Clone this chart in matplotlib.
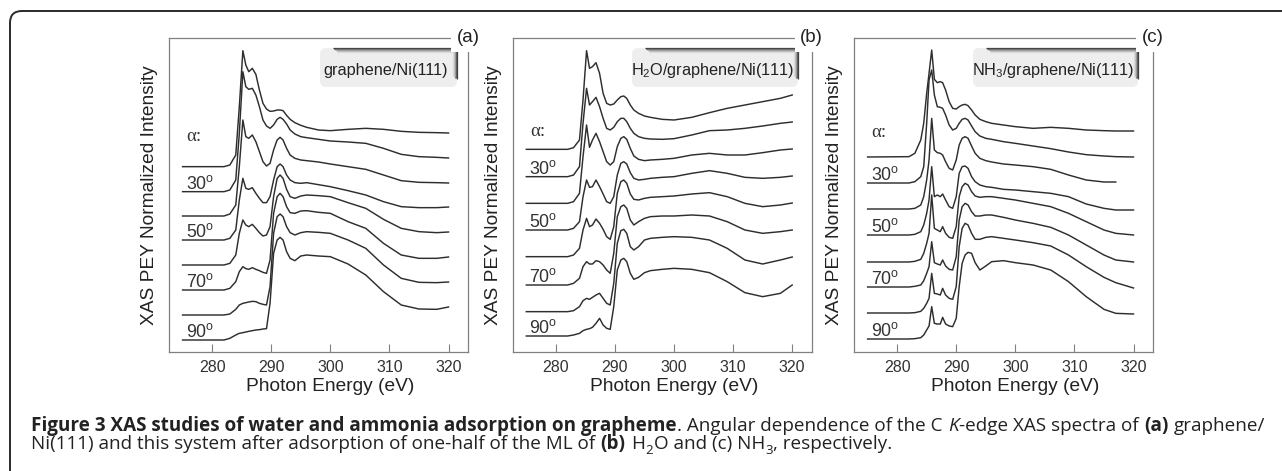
import numpy as np
import matplotlib.pyplot as plt
from matplotlib.patches import FancyBboxPatch
from matplotlib.lines import Line2D
from matplotlib.transforms import IdentityTransform

plt.rcParams['font.family'] = ['Liberation Sans', 'DejaVu Sans']

# photon energies (eV) of the read points
energy_ab = [275, 282, 283, 284, 284.6, 285.2, 285.7, 286.2, 286.8, 287.4, 288, 288.6, 289.2, 289.8,
             290.4, 291, 291.5, 292, 292.6, 293.2, 294, 295, 296, 298, 300, 303, 306, 309, 312, 315,
             318, 320]
energy_c = [275, 282, 283, 284, 284.5, 285, 285.4, 285.85, 286.3, 286.8, 287.3, 287.7, 288.2, 288.8,
            289.4, 290, 290.5, 291, 291.5, 292, 292.6, 293.2, 294, 295, 296, 298, 300, 303, 306, 309,
            312, 315, 317, 320]

# (a) graphene/Ni(111), top curve first, intensity above each curve's own baseline (a.u.)
gr_1 = [0, 0, 5, 35, 180, 348, 305, 285, 295, 277, 230, 190, 173, 166, 167, 170, 170, 168, 154, 142, 132, 124, 118, 110, 108, 112, 115, 112, 106, 103, 102, 101]
gr_2 = [0, 0, 5, 35, 175, 360, 315, 307, 310, 290, 255, 215, 197, 190, 200, 217, 223, 217, 203, 185, 173, 165, 162, 157, 152, 149, 145, 130, 112, 105, 103, 101]
gr_3 = [0, 0, 6, 33, 148, 288, 238, 233, 243, 223, 193, 163, 150, 158, 198, 228, 236, 228, 203, 183, 173, 168, 166, 162, 156, 148, 140, 123, 106, 101, 100, 99]
gr_4 = [0, 0, 5, 30, 120, 185, 155, 152, 157, 140, 125, 112, 112, 130, 180, 220, 228, 220, 195, 180, 172, 170, 172, 166, 160, 148, 135, 115, 100, 97, 97, 99]
gr_5 = [0, 0, 5, 30, 95, 135, 120, 115, 122, 110, 97, 87, 90, 115, 205, 260, 270, 260, 227, 205, 200, 207, 210, 208, 205, 187, 170, 137, 110, 100, 97, 99]
gr_6 = [0, 0, 5, 25, 55, 70, 64, 62, 67, 62, 58, 53, 50, 90, 230, 280, 290, 280, 250, 232, 230, 237, 238, 233, 230, 205, 185, 140, 105, 95, 95, 99]
gr_7 = [0, 0, 3, 17, 30, 35, 37, 39, 41, 40, 35, 32, 30, 85, 245, 295, 303, 295, 265, 247, 240, 247, 250, 248, 245, 225, 200, 150, 110, 98, 97, 99]
gr_8 = [0, 0, 5, 15, 20, 22, 24, 26, 28, 30, 31, 33, 34, 110, 260, 300, 308, 300, 265, 245, 238, 252, 255, 252, 250, 228, 195, 145, 105, 93, 92, 99]
gr_offsets = [520, 445, 372, 300, 225, 150, 75, 0]

# (b) H2O/graphene/Ni(111)
h2o_1 = [0, 0, 5, 28, 148, 296, 243, 248, 260, 228, 168, 138, 133, 136, 148, 158, 160, 153, 133, 118, 108, 100, 96, 90, 88, 96, 110, 123, 133, 143, 153, 163]
h2o_2 = [0, 0, 5, 30, 160, 265, 215, 225, 238, 210, 175, 145, 140, 148, 165, 175, 175, 165, 145, 130, 120, 115, 113, 112, 114, 125, 138, 140, 145, 152, 160, 164]
h2o_3 = [0, 0, 5, 30, 140, 235, 168, 190, 210, 185, 155, 125, 115, 125, 170, 195, 200, 192, 165, 142, 132, 128, 130, 132, 135, 145, 150, 145, 145, 152, 160, 163]
h2o_4 = [0, 0, 5, 25, 100, 150, 128, 130, 150, 130, 108, 85, 80, 100, 165, 200, 205, 198, 172, 155, 150, 152, 155, 158, 160, 170, 178, 170, 158, 155, 158, 162]
h2o_5 = [0, 0, 5, 25, 80, 115, 90, 95, 113, 100, 82, 60, 52, 90, 190, 225, 230, 220, 188, 172, 170, 175, 178, 180, 182, 188, 192, 180, 160, 150, 155, 161]
h2o_6 = [0, 0, 5, 20, 55, 70, 63, 63, 73, 70, 60, 45, 35, 95, 205, 235, 240, 230, 195, 180, 190, 200, 205, 207, 207, 210, 207, 190, 165, 155, 160, 165]
h2o_7 = [0, 0, 3, 15, 33, 40, 37, 43, 50, 55, 40, 25, 20, 85, 205, 243, 247, 235, 195, 185, 195, 215, 220, 223, 225, 223, 215, 190, 155, 143, 155, 164]
h2o_8 = [0, 0, 3, 8, 16, 20, 22, 26, 38, 53, 33, 23, 20, 88, 198, 228, 233, 223, 188, 170, 176, 190, 196, 200, 203, 200, 190, 163, 130, 118, 128, 153]
h2o_offsets = [560, 478, 398, 318, 238, 153, 73, 0]

# (c) NH3/graphene/Ni(111) -- third curve stops at 317 eV
nh3_1 = [0, 1, 11, 51, 101, 191, 251, 321, 233, 223, 226, 223, 201, 166, 146, 144, 151, 156, 158, 154, 141, 126, 113, 106, 101, 96, 91, 86, 89, 86, 81, 79, 78, 78]
nh3_2 = [0, 0, 4, 19, 49, 179, 309, 339, 264, 229, 227, 224, 204, 174, 159, 164, 179, 191, 194, 189, 171, 154, 141, 134, 131, 124, 119, 111, 103, 93, 85, 81, 79, 78]
nh3_3 = [0, 0, 2, 12, 37, 87, 147, 272, 177, 169, 167, 162, 142, 122, 117, 147, 192, 212, 217, 212, 189, 167, 152, 145, 141, 135, 132, 127, 119, 102, 87, 81, 81, np.nan]
nh3_4 = [0, 0, 2, 10, 30, 65, 105, 205, 115, 120, 115, 123, 105, 85, 80, 115, 185, 205, 207, 200, 175, 160, 150, 145, 143, 137, 135, 130, 125, 115, 93, 80, 75, 75]
nh3_5 = [0, 0, 2, 8, 26, 56, 86, 201, 101, 96, 91, 106, 86, 74, 71, 106, 196, 226, 236, 231, 211, 198, 194, 196, 196, 191, 186, 176, 166, 146, 121, 96, 86, 81]
nh3_6 = [0, 0, 2, 6, 19, 41, 61, 136, 73, 69, 66, 81, 63, 53, 51, 91, 201, 241, 251, 246, 226, 213, 213, 216, 216, 209, 201, 191, 179, 156, 126, 96, 81, 75]
nh3_7 = [0, 0, 1, 5, 14, 29, 44, 119, 59, 57, 54, 74, 54, 44, 41, 79, 199, 254, 269, 264, 239, 221, 221, 227, 229, 224, 219, 211, 201, 174, 139, 107, 91, 75]
nh3_8 = [0, 0, 1, 4, 12, 27, 39, 97, 47, 45, 45, 65, 45, 39, 37, 62, 157, 227, 252, 260, 257, 229, 207, 219, 232, 235, 229, 222, 207, 172, 127, 89, 77, 75]
nh3_offsets = [546, 468, 390, 312, 231, 156, 78, 0]

angle_labels = ['30', '50', '70', '90']
sample_names = ['graphene/Ni(111)', r'H$\mathregular{_2}$O/graphene/Ni(111)', r'NH$\mathregular{_3}$/graphene/Ni(111)']
panel_tags = ['(a)', '(b)', '(c)']

# caption pieces: (text, weight, style, space before)
caption_1 = [('Figure 3 XAS studies of water and ammonia adsorption on grapheme', 'bold', 'normal', False),
             ('. Angular dependence of the C', 'normal', 'normal', False),
             ('K', 'normal', 'italic', True),
             ('-edge XAS spectra of', 'normal', 'normal', False),
             ('(a)', 'bold', 'normal', True),
             ('graphene/', 'normal', 'normal', True)]
caption_2 = [('Ni(111) and this system after adsorption of one-half of the ML of', 'normal', 'normal', False),
             ('(b)', 'bold', 'normal', True),
             ('H', 'normal', 'normal', True),
             ('2', 'normal', 'sub', False),
             ('O and (c) NH', 'normal', 'normal', False),
             ('3', 'normal', 'sub', False),
             (', respectively.', 'normal', 'normal', False)]

panels = [
    (energy_ab, [gr_1, gr_2, gr_3, gr_4, gr_5, gr_6, gr_7, gr_8], gr_offsets),
    (energy_ab, [h2o_1, h2o_2, h2o_3, h2o_4, h2o_5, h2o_6, h2o_7, h2o_8], h2o_offsets),
    (energy_c, [nh3_1, nh3_2, nh3_3, nh3_4, nh3_5, nh3_6, nh3_7, nh3_8], nh3_offsets),
]

W, H = 1282, 471
fig = plt.figure(figsize=(W / 100, H / 100), dpi=100)

# rounded frame around the whole figure (cut off at right and bottom)
frame = FancyBboxPatch((10, -40), 1320, 500, boxstyle='round,pad=0,rounding_size=12',
                       fill=False, ec='#2a2a2a', lw=1.4, transform=IdentityTransform())
fig.add_artist(frame)

lefts = [169, 512.7, 854]
ylims = [(-36, 906), (-48, 894), (-39, 903)]
alpha_y = [0.685, 0.702, 0.699]
box_x = [(0.505, 0.458), (0.399, 0.555), (0.398, 0.552)]
shade = ['#3f3f3f', '#555555', '#727272', '#989898', '#bdbdbd', '#dadada']

for i, (energy, curves, offsets) in enumerate(panels):
    ax = fig.add_axes([lefts[i] / W, 1 - 352 / H, 299 / W, 314 / H])
    for spec, off in zip(curves, offsets):
        ax.plot(energy, np.array(spec, dtype=float) + off, color='#2e2e2e', lw=1.05)
    ax.set_xlim(272.7, 323.3)
    ax.set_ylim(*ylims[i])
    ax.set_xticks([280, 290, 300, 310, 320])
    ax.set_yticks([])
    ax.tick_params(axis='x', direction='in', length=6, width=0.8, color='#808080',
                   labelsize=11.5, labelcolor='#333333', pad=6)
    for s in ax.spines.values():
        s.set_color('#808080')
        s.set_linewidth(0.9)
    ax.set_xlabel('Photon Energy (eV)', fontsize=13.8, color='#222222')
    ax.xaxis.set_label_coords(0.54, -0.082)
    ax.text(-0.064, 0.5, 'XAS PEY Normalized Intensity', rotation=90, ha='center', va='center',
            fontsize=13.8, color='#222222', transform=ax.transAxes)

    # angle labels on the left
    ax.text(energy[0] + 0.6, alpha_y[i], 'α:', fontsize=13.5, color='#333333', va='center',
            family=['Liberation Serif', 'DejaVu Serif'], transform=ax.get_xaxis_transform())
    for lab, off in zip(angle_labels, offsets[1::2]):
        ax.text(energy[0] + 0.5, off + 8, lab + r'$\mathregular{^o}$', fontsize=12.8,
                color='#333333', va='baseline', ha='left')

    # sample tag with shaded top and right edge
    x0, bw = box_x[i]
    y0, bh = 0.844, 0.124
    ax.add_patch(FancyBboxPatch((x0, y0), bw, bh, boxstyle='round,pad=0,rounding_size=0.02',
                                transform=ax.transAxes, fc='#eeeeee', ec='none', zorder=3,
                                clip_on=False))
    for k, col in enumerate(shade):
        dx, dy = k * 0.8 / 299, k * 0.7 / 314
        ax.add_line(Line2D([x0 + 0.045 + dx, x0 + bw - dx], [y0 + bh - dy, y0 + bh - dy],
                           color=col, lw=0.9, transform=ax.transAxes, zorder=4, clip_on=False,
                           solid_capstyle='butt'))
        ax.add_line(Line2D([x0 + bw - dx, x0 + bw - dx], [y0 + bh - dy, y0 + 0.025 + dy],
                           color=col, lw=0.9, transform=ax.transAxes, zorder=4, clip_on=False,
                           solid_capstyle='butt'))
    ax.text(x0 + bw / 2 - 0.008, y0 + bh / 2 - 0.008, sample_names[i], fontsize=11.7,
            color='#222222', ha='center', va='center', transform=ax.transAxes, zorder=5)

    # panel tag sitting on the top-right corner
    ax.text(1.0, 1.0, panel_tags[i], fontsize=13.5, color='#222222', ha='center', va='center',
            transform=ax.transAxes, zorder=6, clip_on=False,
            bbox=dict(boxstyle='square,pad=0.3', fc='white', ec='none'))


# caption, written piece by piece so bold / italic / subscripts can be mixed
renderer = fig.canvas.get_renderer()


def text_width(s, fs, weight='normal', style='normal'):
    t = fig.text(0, 0, s, fontsize=fs, family='Open Sans', weight=weight, style=style)
    w = t.get_window_extent(renderer).width
    t.remove()
    return w


def write_line(pieces, x_px, base_px, fs):
    space = text_width('a a', fs) - text_width('aa', fs)
    x = x_px
    for txt, weight, style, gap in pieces:
        if gap:
            x += space
        size, dy = fs, 0.0
        if style == 'sub':
            size, dy, style = fs * 0.7, -0.22 * fs * 100 / 72, 'normal'
        t = fig.text(x / W, 1 - (base_px - dy) / H, txt, fontsize=size, family='Open Sans',
                     weight=weight, style=style, color='#222222', va='baseline', ha='left')
        x += t.get_window_extent(renderer).width + 0.5


def line_width(pieces, fs):
    space = text_width('a a', fs) - text_width('aa', fs)
    w = 0.0
    for txt, weight, style, gap in pieces:
        if gap:
            w += space
        if style == 'sub':
            w += text_width(txt, fs * 0.7) + 0.5
        else:
            w += text_width(txt, fs, weight, style) + 0.5
    return w


fs_cap = 10.5 * 1238 / line_width(caption_1, 10.5)
write_line(caption_1, 31, 430.6, fs_cap)
write_line(caption_2, 31, 449.4, fs_cap)

fig.savefig('out.png', dpi=100)
